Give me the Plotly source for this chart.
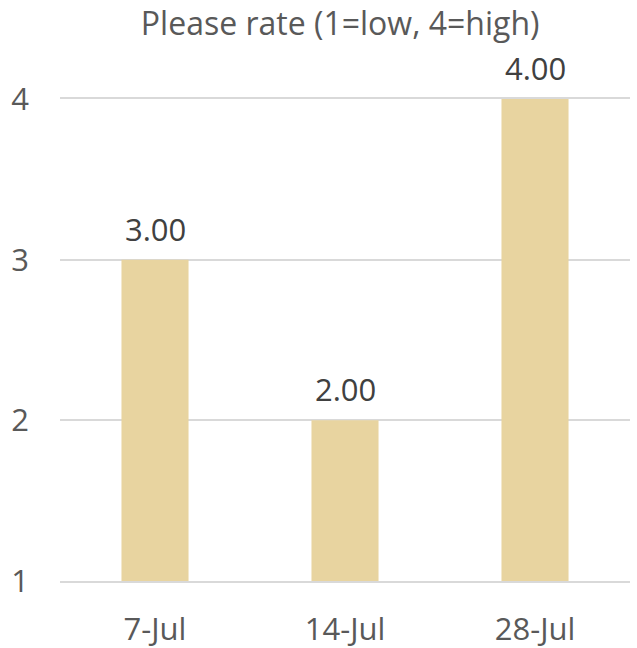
import plotly.graph_objects as go

categories = ["7-Jul", "14-Jul", "28-Jul"]
ratings = [3.0, 2.0, 4.0]
y_ticks = [1, 2, 3, 4]

text_color = "#595959"
label_color = "#404040"
grid_color = "#D9D9D9"
bar_color = "#E8D4A0"
font_family = "Open Sans, sans-serif"
font_size = 31

fig = go.Figure(
    go.Bar(
        x=categories,
        y=ratings,
        marker=dict(color=bar_color, line=dict(width=0)),
        cliponaxis=False,
    )
)

# value labels sit a little above each bar
for cat, val in zip(categories, ratings):
    fig.add_annotation(
        x=cat,
        y=val,
        text=f"{val:.2f}",
        showarrow=False,
        yanchor="bottom",
        yshift=8,
        font=dict(family=font_family, size=font_size, color=label_color),
    )

fig.update_layout(
    width=637,
    height=648,
    margin=dict(l=60, r=7, t=99, b=67),
    paper_bgcolor="white",
    plot_bgcolor="white",
    bargap=0.647,
    showlegend=False,
    title=dict(
        text="Please rate (1=low, 4=high)",
        xref="container",
        x=0.534,
        xanchor="center",
        y=0.963,
        yanchor="middle",
        font=dict(family=font_family, size=32, color=text_color),
    ),
    font=dict(family=font_family, color=text_color),
)

fig.update_xaxes(
    automargin=False,
    showgrid=False,
    showline=True,
    mirror=True,
    linecolor=grid_color,
    linewidth=1.5,
    ticks="",
    tickfont=dict(family=font_family, size=font_size, color=text_color),
    ticklabelstandoff=20,
)

fig.update_yaxes(
    automargin=False,
    range=[1, 4],
    tickvals=y_ticks,
    showgrid=True,
    gridcolor=grid_color,
    gridwidth=1.5,
    zeroline=False,
    showline=False,
    ticks="",
    tickfont=dict(family=font_family, size=font_size, color=text_color),
    ticklabelstandoff=30,
)

fig.write_html("out.html")
